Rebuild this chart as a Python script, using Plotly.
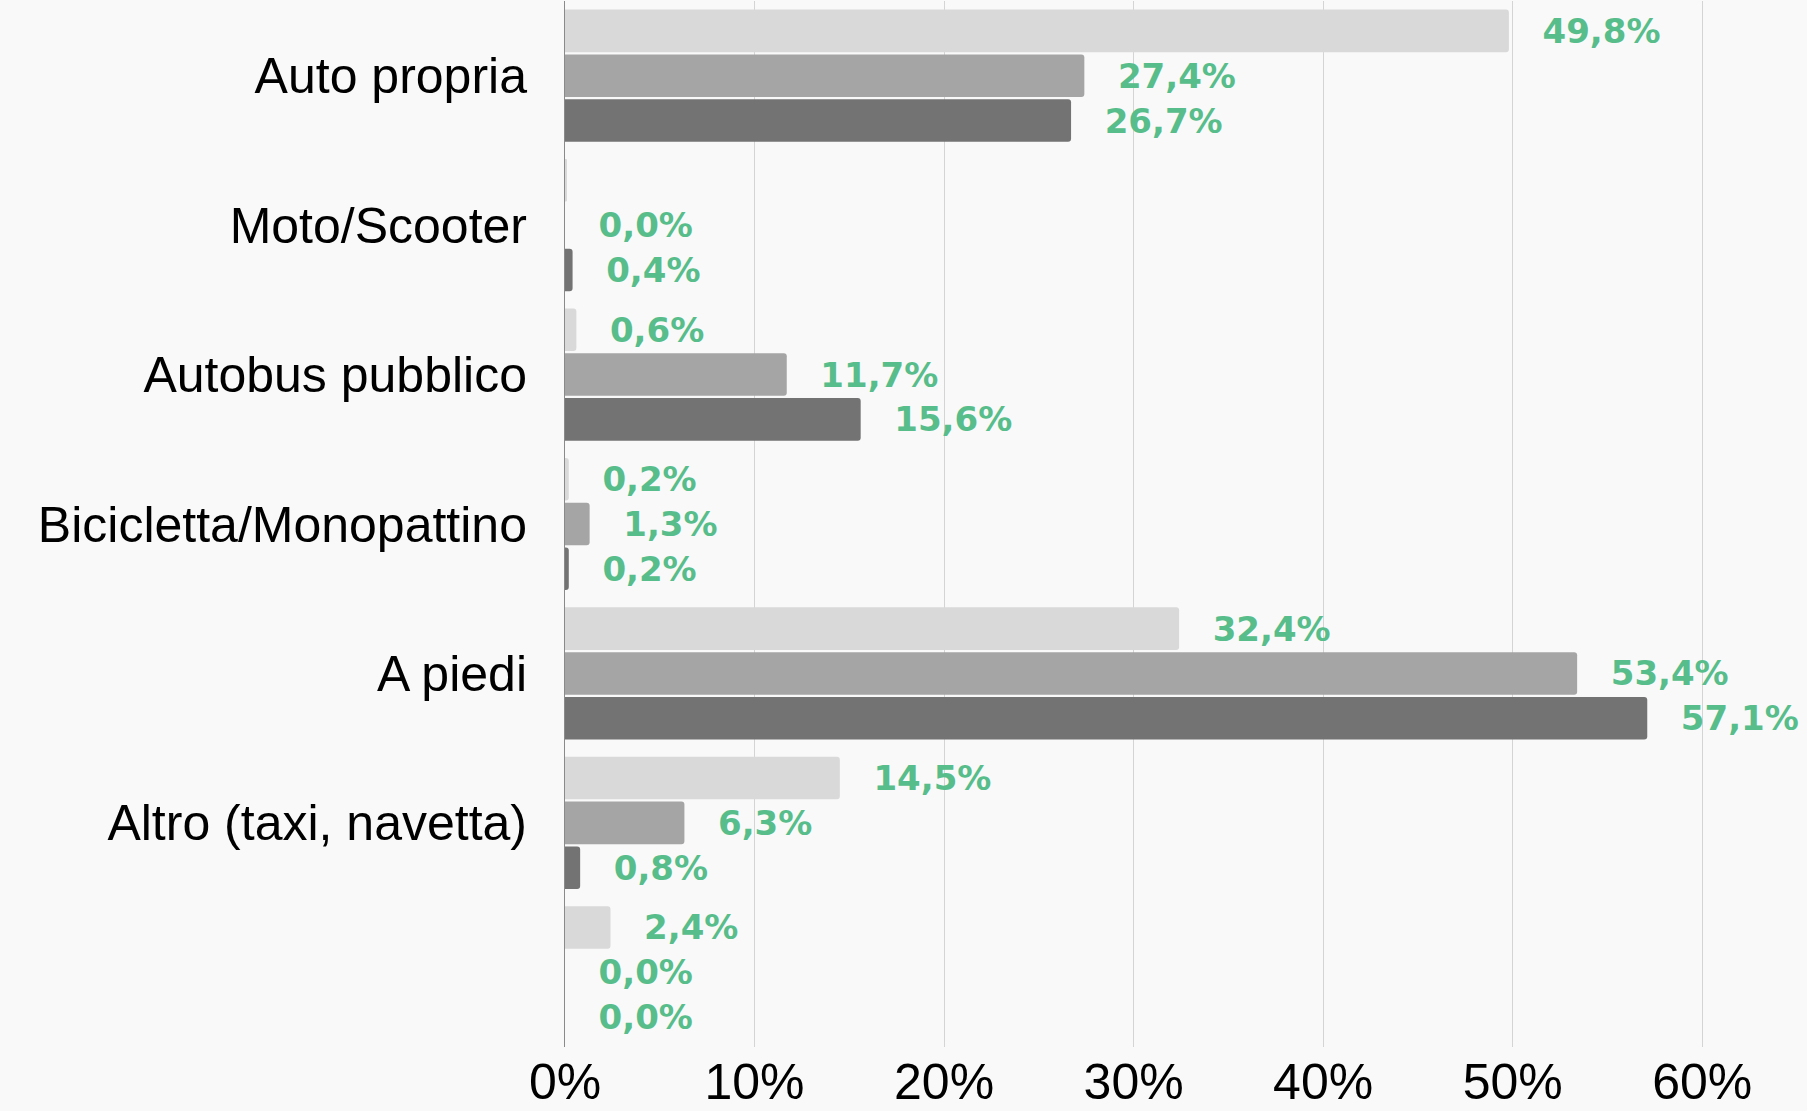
import plotly.graph_objects as go

###############################################################################
# Data

categories = ['Auto propria', 'Moto/Scooter', 'Autobus pubblico',
              'Bicicletta/Monopattino', 'A piedi', 'Altro (taxi, navetta)', ' ']

series_names = ['Serie 1', 'Serie 2', 'Serie 3']
series_colors = ['#d9d9d9', '#a5a5a5', '#737373']

values_1 = [49.8, 0.1, 0.6, 0.2, 32.4, 14.5, 2.4]
values_2 = [27.4, 0.0, 11.7, 1.3, 53.4, 6.3, 0.0]
values_3 = [26.7, 0.4, 15.6, 0.2, 57.1, 0.8, 0.0]

# the light bar of Moto/Scooter carries no label in the original
hidden_labels = {(0, 1)}

tick_values = [0, 10, 20, 30, 40, 50, 60]
tick_labels = ['0%', '10%', '20%', '30%', '40%', '50%', '60%']

###############################################################################
# Figure

def label(v):
    return '\u2002\u2009\u2009' + f'{v:.1f}'.replace('.', ',') + '%'

fig = go.Figure()

for s, vals in enumerate([values_1, values_2, values_3]):
    texts = ['' if (s, i) in hidden_labels else label(v) for i, v in enumerate(vals)]
    fig.add_trace(
        go.Bar(
            x=vals,
            y=categories,
            orientation='h',
            name=series_names[s],
            marker=dict(color=series_colors[s], line=dict(width=0)),
            text=texts,
            textposition='outside',
            constraintext='none',
            cliponaxis=False,
            textfont=dict(family='DejaVu Sans', size=34, weight='bold', color='#57bd8a'),
        )
    )

fig.update_layout(
    width=1807,
    height=1111,
    barmode='group',
    bargap=0.1,
    bargroupgap=0.05,
    barcornerradius=3,
    showlegend=False,
    paper_bgcolor='#f9f9f9',
    plot_bgcolor='#f9f9f9',
    margin=dict(l=565, r=10, t=1, b=64),
    font=dict(family='Liberation Sans', color='#000000'),
)

fig.update_xaxes(
    range=[0, 65],
    tickvals=tick_values,
    ticktext=tick_labels,
    tickfont=dict(size=50),
    ticklabelstandoff=1,
    showgrid=True,
    gridcolor='#d4d4d4',
    gridwidth=1,
    zeroline=False,
    showline=False,
    ticks='',
    automargin=False,
)

fig.update_yaxes(
    autorange='reversed',
    tickfont=dict(size=50),
    showline=True,
    linecolor='#8a8a8a',
    linewidth=1,
    ticks='',
    ticklabelstandoff=27,
    automargin=False,
)

fig.write_html('out.html', config={'displayModeBar': False},
               post_script="document.body.style.margin='0';")
